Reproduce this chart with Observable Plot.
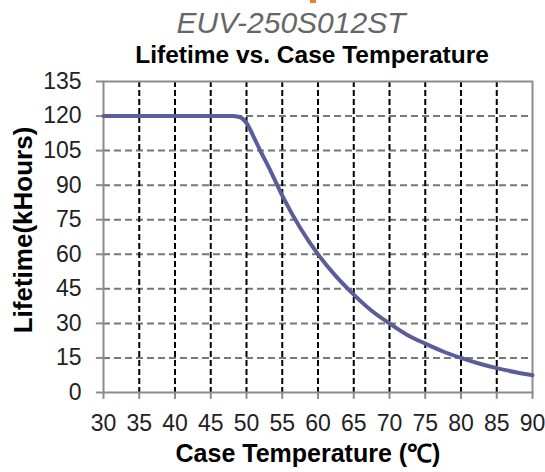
<!DOCTYPE html>
<html>
<head>
<meta charset="utf-8">
<script src="https://cdn.jsdelivr.net/npm/d3@7"></script>
<script src="https://cdn.jsdelivr.net/npm/@observablehq/plot@0.6"></script>
<style>
  html, body { margin: 0; padding: 0; background: #fff; }
  #wrap { position: relative; width: 545px; height: 472px; overflow: hidden; font-family: "Liberation Sans", Arial, sans-serif; }
  .lbl { position: absolute; white-space: nowrap; line-height: 1; }
</style>
</head>
<body>
<div id="wrap">
  <div class="lbl" style="left:310px; top:-2px; width:6px; height:5px; background:#f08020;"></div>
  <div class="lbl" id="sub" style="left:291px; top:8px; transform:translateX(-50%); font-size:30px; font-style:italic; color:#666;">EUV-250S012ST</div>
  <div class="lbl" id="title" style="left:312px; top:43px; transform:translateX(-50%); font-size:24.5px; font-weight:bold; color:#000;">Lifetime vs. Case Temperature</div>
  <div class="lbl" id="xlab" style="left:308px; top:441px; transform:translateX(-50%); font-size:25px; font-weight:bold; color:#000;">Case Temperature (℃)</div>
  <div class="lbl" id="ylab" style="left:23px; top:230px; transform:translate(-50%,-50%) rotate(-90deg); font-size:26px; font-weight:bold; color:#000;">Lifetime(kHours)</div>
  <div id="chart"></div>
</div>
<script>
const temperature = [30, 35, 40, 45, 48, 49, 50, 51, 52, 53, 55, 57.5, 60, 62.5, 65, 67.5, 70, 72.5, 75, 77.5, 80, 82.5, 85, 87.5, 90];
const lifetime    = [120, 120, 120, 120, 120, 119.6, 117, 111, 104.5, 98.5, 85.5, 71.5, 60, 50.5, 42.5, 35.5, 30, 25, 21.2, 17.8, 15, 12.6, 10.6, 8.9, 7.5];
const xTicks = [30, 35, 40, 45, 50, 55, 60, 65, 70, 75, 80, 85, 90];
const yTicks = [0, 15, 30, 45, 60, 75, 90, 105, 120, 135];
const xGrid = [35, 40, 45, 50, 55, 60, 65, 70, 75, 80, 85];
const yGrid = [15, 30, 45, 60, 75, 90, 105, 120];

const data = temperature.map((t, i) => ({t, v: lifetime[i]}));

const chart = Plot.plot({
  width: 545,
  height: 472,
  marginLeft: 103,
  marginRight: 13,
  marginTop: 81,
  marginBottom: 80,
  style: {fontFamily: "'Liberation Sans', Arial, sans-serif", fontSize: "23px", background: "#fff", overflow: "visible"},
  x: {domain: [30, 90], axis: null},
  y: {domain: [0, 135], axis: null},
  marks: [
    Plot.gridY(yGrid, {stroke: "#777", strokeOpacity: 1, strokeWidth: 2, strokeDasharray: "7,4"}),
    Plot.gridX(xGrid, {stroke: "#000", strokeOpacity: 1, strokeWidth: 2, strokeDasharray: "6,3"}),
    Plot.frame({stroke: "#8c8c8c", strokeWidth: 2}),
    Plot.ruleY(yTicks, {y: d => d, x1: 29.0, x2: 30, stroke: "#8c8c8c", strokeWidth: 2, clip: false}),
    Plot.text(yTicks, {y: d => d, frameAnchor: "left", dx: -22, textAnchor: "end", fill: "#222", fontSize: 23, text: d => String(d)}),
    Plot.ruleX(xTicks, {x: d => d, y1: -3, y2: 0, stroke: "#8c8c8c", strokeWidth: 2, clip: false}),
    Plot.text(xTicks, {x: d => d, frameAnchor: "bottom", dy: 38, fill: "#222", fontSize: 23, text: d => String(d)}),
    Plot.line(data, {x: "t", y: "v", curve: "monotone-x", stroke: "#5c5c9a", strokeWidth: 4})
  ]
});
document.getElementById("chart").appendChild(chart);
</script>
</body>
</html>
